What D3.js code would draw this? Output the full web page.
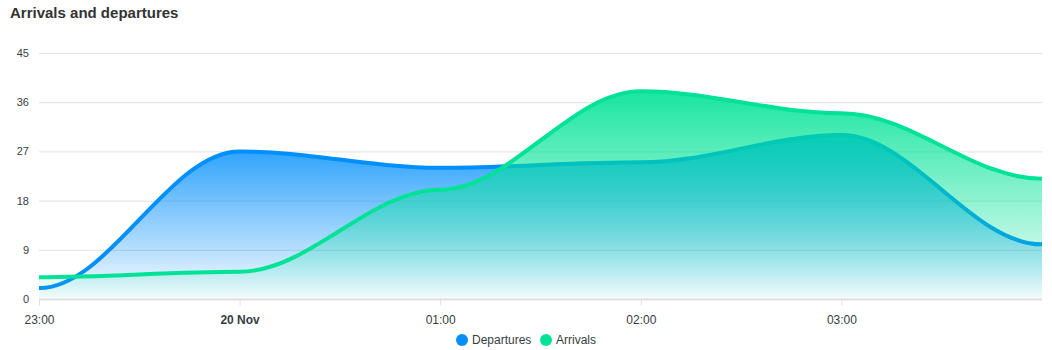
<!DOCTYPE html>
<html>
<head>
<meta charset="utf-8">
<script src="https://cdn.jsdelivr.net/npm/d3@7/dist/d3.min.js"></script>
<style>
  body { margin: 0; background: #fff; }
  svg text { font-family: "Liberation Sans", Arial, Helvetica, sans-serif; }
</style>
</head>
<body>
<svg id="chart" width="1052" height="350"></svg>
<script>
// Hourly timestamps and counts
const times = ["2023-11-19T23:00", "2023-11-20T00:00", "2023-11-20T01:00",
               "2023-11-20T02:00", "2023-11-20T03:00", "2023-11-20T04:00"];
const departures = [2, 27, 24, 25, 30, 10];
const arrivals = [4, 5, 20, 38, 34, 22];
const yTicks = [0, 9, 18, 27, 36, 45];
const seriesNames = ["Departures", "Arrivals"];
const seriesColors = ["#008FFB", "#00E396"];

// Smooth curve: cubic segments with horizontal tangents at each point,
// control handles at 35% of the horizontal gap.
class SmoothX {
  constructor(context) { this._context = context; }
  areaStart() { this._line = 0; }
  areaEnd() { this._line = NaN; }
  lineStart() { this._point = 0; }
  lineEnd() {
    if (this._line || (this._line !== 0 && this._point === 1)) this._context.closePath();
    this._line = 1 - this._line;
  }
  point(px, py) {
    px = +px; py = +py;
    if (this._point === 0) {
      this._point = 1;
      if (this._line) this._context.lineTo(px, py); else this._context.moveTo(px, py);
    } else {
      this._point = 2;
      const k = (px - this._x0) * 0.35;
      this._context.bezierCurveTo(this._x0 + k, this._y0, px - k, py, px, py);
    }
    this._x0 = px; this._y0 = py;
  }
}
const curveSmoothX = context => new SmoothX(context);

const parse = d3.timeParse("%Y-%m-%dT%H:%M");
const dates = times.map(parse);
const series = [departures, arrivals].map((vals, i) => ({
  name: seriesNames[i],
  color: seriesColors[i],
  points: vals.map((v, j) => ({ t: dates[j], v }))
}));

const svg = d3.select("#chart");
const plotLeft = 39, plotRight = 1042, plotTop = 53, plotBottom = 299;

const x = d3.scaleTime().domain([dates[0], dates[dates.length - 1]]).range([plotLeft, plotRight]);
const y = d3.scaleLinear().domain([0, 45]).range([plotBottom, plotTop]);

// Title
svg.append("text")
  .attr("x", 10).attr("y", 18)
  .attr("font-size", 15).attr("font-weight", "bold")
  .attr("fill", "#333333")
  .text("Arrivals and departures");

// Horizontal grid
svg.append("g").selectAll("line").data(yTicks.filter(d => d > 0)).join("line")
  .attr("x1", plotLeft).attr("x2", plotRight)
  .attr("y1", d => y(d) + 0.5).attr("y2", d => y(d) + 0.5)
  .attr("stroke", "#e0e0e0").attr("stroke-width", 1);

// Y axis labels
const yAxis = d3.axisLeft(y).tickValues(yTicks).tickSize(0).tickPadding(0);
const yg = svg.append("g").attr("transform", `translate(${plotLeft - 10},0)`).call(yAxis);
yg.select(".domain").remove();
yg.selectAll("text").attr("font-size", 11).attr("fill", "#373d3f")
  .attr("font-family", null);

// Gradients, one per series
const defs = svg.append("defs");
series.forEach((s, i) => {
  const peak = d3.max(s.points, d => d.v);
  const g = defs.append("linearGradient")
    .attr("id", "grad" + i)
    .attr("gradientUnits", "userSpaceOnUse")
    .attr("x1", 0).attr("x2", 0)
    .attr("y1", y(peak)).attr("y2", y(0));
  g.append("stop").attr("offset", "0%").attr("stop-color", s.color).attr("stop-opacity", 0.9);
  g.append("stop").attr("offset", "100%").attr("stop-color", s.color).attr("stop-opacity", 0.02);
});

const area = d3.area().curve(curveSmoothX)
  .x(d => x(d.t)).y0(y(0)).y1(d => y(d.v));
const line = d3.line().curve(curveSmoothX)
  .x(d => x(d.t)).y(d => y(d.v));

series.forEach((s, i) => {
  const g = svg.append("g");
  g.append("path").datum(s.points).attr("d", area)
    .attr("fill", `url(#grad${i})`);
  g.append("path").datum(s.points).attr("d", line)
    .attr("fill", "none").attr("stroke", s.color)
    .attr("stroke-width", 4).attr("stroke-linecap", "butt");
});

// X axis
const xAxis = d3.axisBottom(x)
  .tickValues(dates.slice(0, 5))
  .tickSize(6).tickPadding(10)
  .tickFormat(d => d.getHours() === 0 ? d3.timeFormat("%-d %b")(d) : d3.timeFormat("%H:%M")(d));
const xg = svg.append("g").attr("transform", `translate(0,${plotBottom + 0.5})`).call(xAxis);
xg.select(".domain").attr("stroke", "#e0e0e0").attr("stroke-width", 2)
  .attr("d", `M${plotLeft},0H${plotRight}`);
xg.selectAll(".tick line").attr("stroke", "#e0e0e0");
xg.selectAll("text").attr("font-size", 12).attr("fill", "#373d3f")
  .attr("font-family", null)
  .attr("font-weight", d => d.getHours() === 0 ? "bold" : "normal");

// Legend
const legendX = [462, 546];
const lg = svg.append("g");
series.forEach((s, i) => {
  lg.append("circle").attr("cx", legendX[i]).attr("cy", 340).attr("r", 6).attr("fill", s.color);
  lg.append("text").attr("x", legendX[i] + 10).attr("y", 344)
    .attr("font-size", 12).attr("fill", "#373d3f").text(s.name);
});
</script>
</body>
</html>
